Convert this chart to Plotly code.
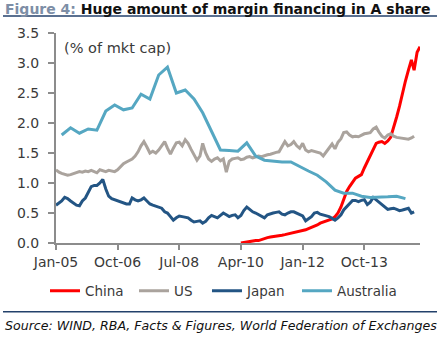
import pandas as pd
import plotly.graph_objects as go

# Margin financing as % of market cap, monthly from Jan-2005
us_vals = [1.22, 1.18, 1.16, 1.15, 1.13, 1.14, 1.16, 1.17, 1.19, 1.18,
           1.20, 1.19, 1.21, 1.19, 1.17, 1.22, 1.20, 1.19, 1.21, 1.20,
           1.19, 1.22, 1.28, 1.32, 1.35, 1.37, 1.40, 1.45, 1.52, 1.62,
           1.69, 1.60, 1.50, 1.53, 1.50, 1.55, 1.62, 1.69, 1.58, 1.48,
           1.58, 1.67, 1.68, 1.62, 1.72, 1.66, 1.56, 1.48, 1.38, 1.45,
           1.66, 1.50, 1.40, 1.36, 1.40, 1.42, 1.37, 1.40, 1.18, 1.36,
           1.40, 1.41, 1.42, 1.39, 1.40, 1.43, 1.44, 1.42, 1.44, 1.45,
           1.44, 1.46, 1.47, 1.48, 1.50, 1.51, 1.52, 1.60, 1.69, 1.62,
           1.64, 1.69, 1.62, 1.58, 1.66, 1.55, 1.52, 1.54, 1.53, 1.52,
           1.50, 1.45, 1.52, 1.60, 1.65, 1.57, 1.68, 1.74, 1.84, 1.85,
           1.80, 1.77, 1.78, 1.77, 1.80, 1.82, 1.83, 1.84, 1.90, 1.93,
           1.85, 1.78, 1.75, 1.80, 1.82, 1.78, 1.76, 1.75, 1.74, 1.73,
           1.73, 1.75, 1.78]

japan_vals = [0.63, 0.66, 0.70, 0.76, 0.74, 0.70, 0.66, 0.63, 0.62, 0.70,
              0.75, 0.84, 0.94, 0.96, 0.96, 1.00, 1.06, 0.90, 0.78, 0.74,
              0.72, 0.70, 0.69, 0.67, 0.65, 0.65, 0.75, 0.72, 0.70, 0.72,
              0.75, 0.70, 0.65, 0.63, 0.61, 0.59, 0.58, 0.52, 0.50, 0.44,
              0.38, 0.42, 0.45, 0.44, 0.43, 0.42, 0.38, 0.35, 0.36, 0.37,
              0.33, 0.36, 0.42, 0.46, 0.44, 0.42, 0.46, 0.50, 0.47, 0.44,
              0.46, 0.47, 0.42, 0.46, 0.54, 0.60, 0.56, 0.52, 0.50, 0.47,
              0.44, 0.42, 0.47, 0.49, 0.50, 0.51, 0.52, 0.48, 0.47, 0.50,
              0.52, 0.52, 0.50, 0.47, 0.45, 0.37, 0.40, 0.44, 0.50, 0.51,
              0.48, 0.47, 0.45, 0.44, 0.41, 0.38, 0.42, 0.47, 0.55, 0.60,
              0.66, 0.71, 0.71, 0.69, 0.71, 0.72, 0.64, 0.68, 0.76, 0.72,
              0.69, 0.64, 0.60, 0.56, 0.57, 0.58, 0.56, 0.54, 0.55, 0.56,
              0.58, 0.50, 0.52]

# Quarterly, from Mar-2005
australia_vals = [1.80, 1.92, 1.83, 1.90, 1.88, 2.20, 2.30, 2.22, 2.25, 2.48,
                  2.40, 2.80, 2.93, 2.50, 2.55, 2.40, 2.17, 1.85, 1.55, 1.54,
                  1.53, 1.67, 1.45, 1.38, 1.36, 1.35, 1.35, 1.27, 1.20, 1.13,
                  1.02, 0.88, 0.83, 0.83, 0.78, 0.76, 0.76, 0.77, 0.78, 0.74]

# Monthly, from Apr-2010
china_vals = [0.00, 0.01, 0.01, 0.02, 0.03, 0.04, 0.04, 0.06, 0.08, 0.09,
              0.10, 0.11, 0.12, 0.13, 0.13, 0.14, 0.15, 0.17, 0.18, 0.18,
              0.19, 0.20, 0.22, 0.24, 0.26, 0.27, 0.30, 0.33, 0.35, 0.37,
              0.38, 0.40, 0.44, 0.50, 0.60, 0.74, 0.86, 0.94, 1.02, 1.08,
              1.11, 1.14, 1.25, 1.36, 1.45, 1.55, 1.66, 1.68, 1.69, 1.66,
              1.70, 1.76, 1.92, 2.10, 2.28, 2.52, 2.70, 2.88, 3.05, 2.88,
              3.18, 3.27]

us_dates = pd.date_range("2005-01-01", periods=len(us_vals), freq="MS")
japan_dates = pd.date_range("2005-01-01", periods=len(japan_vals), freq="MS")
australia_dates = pd.date_range("2005-03-01", periods=len(australia_vals), freq="3MS")
china_dates = pd.date_range("2010-04-01", periods=len(china_vals), freq="MS")

y_ticks = [0.0, 0.5, 1.0, 1.5, 2.0, 2.5, 3.0, 3.5]

TXT = "#3a3a3a"
AXIS = "#8c8c8c"
NAVY = "#23416b"
LW = 3

series = [
    ("China", china_dates, china_vals, "#ff0000", "legend", -0.0302),
    ("US", us_dates, us_vals, "#aaa39d", "legend2", 0.2143),
    ("Japan", japan_dates, japan_vals, "#235584", "legend3", 0.4148),
    ("Australia", australia_dates, australia_vals, "#55a7c2", "legend4", 0.6621),
]

fig = go.Figure()
legend_layout = {}
for name, xs, ys, color, leg, lx in series:
    fig.add_trace(go.Scatter(x=xs, y=ys, name=name, mode="lines", legend=leg,
                             line=dict(color=color, width=LW)))
    legend_layout[leg] = dict(orientation="h", x=lx, xanchor="left", y=-0.229, yanchor="middle",
                              font=dict(family="DejaVu Sans", size=13.5, color=TXT),
                              bgcolor="rgba(0,0,0,0)")

fig.update_layout(
    width=440, height=339,
    margin=dict(l=56, r=20, t=33, b=96),
    paper_bgcolor="white", plot_bgcolor="white",
    font=dict(family="DejaVu Sans", size=13, color=TXT),
    showlegend=True,
    **legend_layout,
    xaxis=dict(type="date", range=["2005-01-01", "2015-05-01"],
               tick0="2005-01-01", dtick="M21", tickformat="%b-%y",
               ticks="outside", ticklen=5, tickwidth=1.5, tickcolor=AXIS,
               showline=True, linecolor=AXIS, linewidth=2, showgrid=False, zeroline=False,
               tickfont=dict(family="DejaVu Sans", size=14, color=TXT)),
    yaxis=dict(range=[0, 3.5], tickvals=y_ticks, tickformat=".1f",
               ticks="outside", ticklen=6, tickwidth=1.5, tickcolor=AXIS,
               showline=True, linecolor=AXIS, linewidth=2, showgrid=False, zeroline=False,
               ticklabelstandoff=6,
               tickfont=dict(family="DejaVu Sans", size=14, color=TXT)),
)

# Title and source rules
fig.add_shape(type="line", xref="paper", yref="paper", x0=-0.1456, x1=1.0467,
              y0=1.081, y1=1.081, line=dict(color=NAVY, width=1.5))
fig.add_shape(type="line", xref="paper", yref="paper", x0=-0.1456, x1=1.0467,
              y0=-0.327, y1=-0.327, line=dict(color=NAVY, width=1.5))

fig.add_annotation(xref="paper", yref="paper", x=-0.1456, y=1.114, xanchor="left", yanchor="middle",
                   showarrow=False,
                   text="<span style='color:#7d8ea6'>Figure 4:</span> Huge amount of margin financing in A share",
                   font=dict(family="DejaVu Sans", size=14, color="#111111", weight="bold"))
fig.add_annotation(xref="paper", yref="paper", x=0.0165, y=0.9286, xanchor="left", yanchor="middle",
                   showarrow=False, text="(% of mkt cap)",
                   font=dict(family="DejaVu Sans", size=14.5, color=TXT))
fig.add_annotation(xref="paper", yref="paper", x=-0.145, y=-0.395, xanchor="left", yanchor="middle",
                   showarrow=False,
                   text="<i>Source: WIND, RBA, Facts &amp; Figures, World Federation of Exchanges</i>",
                   font=dict(family="DejaVu Sans", size=12.6, color="#111111"))

fig.write_html("out.html")
